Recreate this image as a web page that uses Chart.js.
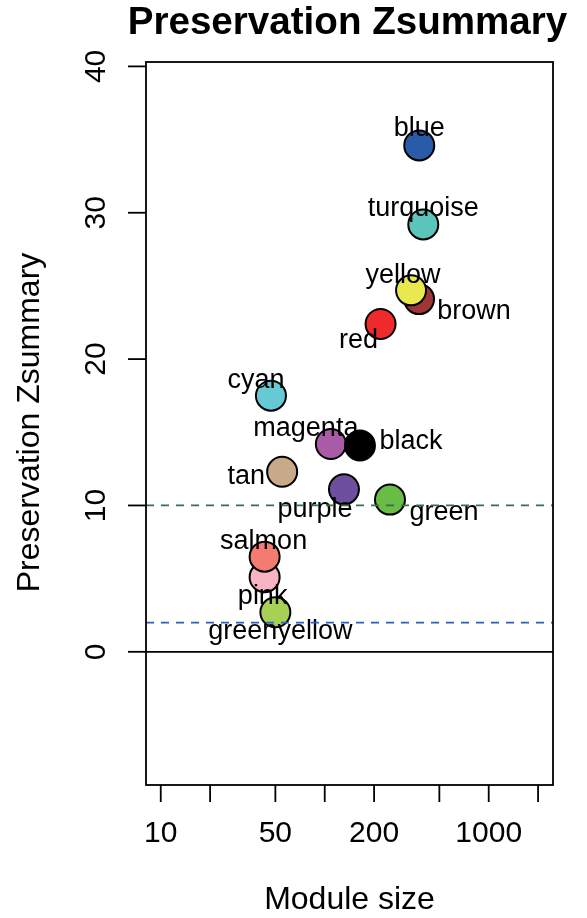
<!DOCTYPE html>
<html>
<head>
<meta charset="utf-8">
<script src="https://cdn.jsdelivr.net/npm/chart.js@4.4.1/dist/chart.umd.min.js"></script>
<style>
body { margin: 0; background: #fff; }
canvas { display: block; }
</style>
</head>
<body>
<canvas id="zsummary-chart" width="587" height="918"></canvas>
<script>
/* Module data (draw order: brown before yellow, pink before salmon) */
let moduleNames = ['blue', 'turquoise', 'brown', 'yellow', 'red', 'cyan', 'magenta', 'black', 'tan', 'purple', 'green', 'pink', 'salmon', 'greenyellow']
let moduleSizes = [377, 399, 376, 336, 219, 47, 109, 164, 55, 131, 250, 43, 43, 50]
let zsummary = [34.6, 29.2, 24.1, 24.7, 22.4, 17.5, 14.2, 14.1, 12.3, 11.1, 10.4, 5.1, 6.5, 2.7]

/* Axis ticks and reference lines */
let xTicks = [10, 20, 50, 100, 200, 500, 1000, 2000]
let xTickLabels = ['10', '', '50', '', '200', '', '1000', '']
let yTicks = [0, 10, 20, 30, 40]
let refLines = [0, 2, 10]

/* Styles */
let fillColors = ['#2a5ba8', '#5bc5bb', '#9f3633', '#e9e84e', '#ee2a2a', '#66cad5', '#a95ca5', '#000000', '#c8a98a', '#6e4f9e', '#69bc46', '#f8b4c2', '#f37b72', '#a6d156']
let labelOffsets = [[0, -17], [0, -16], [55, 12], [-8, -15], [-22, 17], [-15, -15], [-25, -15], [51, -4], [-36, 5], [-29, 20], [54, 13], [-2, 19], [-1, -15], [5, 19]]
let refStyles = [
    { color: '#000000', dash: [] },
    { color: '#2c5fc4', dash: [8, 7] },
    { color: '#38704a', dash: [8, 7] }
]
let fontFamily = '"Liberation Sans", Arial, Helvetica, sans-serif'

let ctx = document.querySelector('#zsummary-chart').getContext('2d')

// draws the R style box, axes, labels and reference lines
let rStylePlugin = {
    id: 'rStyle',
    afterDatasetsDraw(chart) {
        let c = chart.ctx
        let area = chart.chartArea
        let xScale = chart.scales.x
        let yScale = chart.scales.y
        let points = chart.getDatasetMeta(0).data

        c.save()
        c.fillStyle = '#000'
        c.textAlign = 'center'
        c.textBaseline = 'middle'

        // point labels
        c.font = '27px ' + fontFamily
        points.forEach(function (pt, i) {
            c.fillText(moduleNames[i], pt.x + labelOffsets[i][0], pt.y + labelOffsets[i][1])
        })

        // reference lines
        refLines.forEach(function (v, i) {
            let y = yScale.getPixelForValue(v)
            c.beginPath()
            c.setLineDash(refStyles[i].dash)
            c.strokeStyle = refStyles[i].color
            c.lineWidth = 1.8
            c.moveTo(area.left, y)
            c.lineTo(area.right, y)
            c.stroke()
        })
        c.setLineDash([])

        // box
        c.strokeStyle = '#000'
        c.lineWidth = 1.8
        c.strokeRect(area.left, area.top, area.right - area.left, area.bottom - area.top)

        // x axis ticks
        c.font = '30px ' + fontFamily
        xTicks.forEach(function (v, i) {
            let x = xScale.getPixelForValue(v)
            c.beginPath()
            c.moveTo(x, area.bottom)
            c.lineTo(x, area.bottom + 17)
            c.stroke()
            if (xTickLabels[i]) {
                c.fillText(xTickLabels[i], x, area.bottom + 49)
            }
        })

        // y axis ticks, labels rotated like R
        yTicks.forEach(function (v) {
            let y = yScale.getPixelForValue(v)
            c.beginPath()
            c.moveTo(area.left, y)
            c.lineTo(area.left - 18, y)
            c.stroke()
            c.save()
            c.translate(area.left - 49, y)
            c.rotate(-Math.PI / 2)
            c.fillText(String(v), 0, 0)
            c.restore()
        })

        // axis titles
        c.font = '32px ' + fontFamily
        c.fillText('Module size', (area.left + area.right) / 2, 900)
        c.save()
        c.translate(30, (area.top + area.bottom) / 2 - 1)
        c.rotate(-Math.PI / 2)
        c.fillText('Preservation Zsummary', 0, 0)
        c.restore()

        // main title
        c.font = 'bold 38.6px ' + fontFamily
        c.fillText('Preservation Zsummary', (area.left + area.right) / 2 - 2, 23)

        c.restore()
    }
}

let zsummaryChart = new Chart(ctx, {
    type: 'scatter',
    data: {
        datasets: [
            {
                data: moduleSizes.map(function (s, i) { return { x: s, y: zsummary[i] } }),
                backgroundColor: fillColors,
                borderColor: '#000',
                borderWidth: 2,
                pointRadius: 15,
                pointHoverRadius: 15
            }
        ]
    },
    options: {
        responsive: false,
        animation: false,
        layout: { padding: { left: 146, right: 34, top: 62, bottom: 133 } },
        plugins: {
            legend: { display: false },
            tooltip: { enabled: false },
            title: { display: false }
        },
        scales: {
            x: { type: 'logarithmic', min: 8.13, max: 2466, display: false },
            y: { type: 'linear', min: -9.1, max: 40.3, display: false }
        }
    },
    plugins: [rStylePlugin]
})
</script>
</body>
</html>
